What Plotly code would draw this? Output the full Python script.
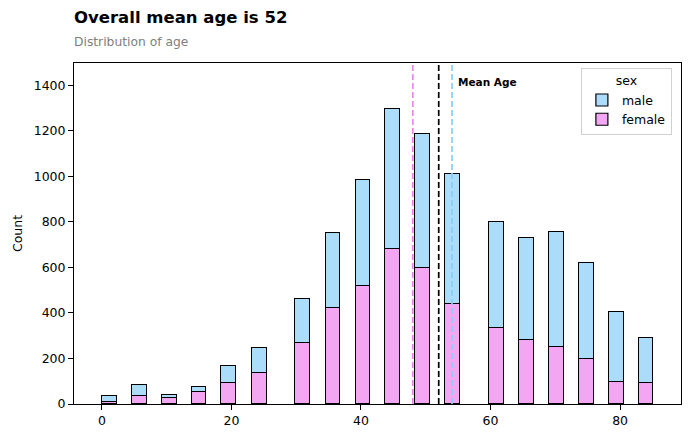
import plotly.graph_objects as go

# --- dados ---
age_bins = [1.2, 5.8, 10.4, 15.0, 19.6, 24.3, 31.0, 35.7, 40.3, 44.9,
            49.5, 54.1, 60.9, 65.5, 70.2, 74.8, 79.4, 84.0]
total = [35, 83, 41, 75, 167, 246, 461, 751, 985, 1296,
         1187, 1012, 800, 729, 756, 621, 404, 291]
female = [11, 33, 26, 51, 91, 136, 268, 422, 518, 680,
          596, 438, 334, 281, 250, 198, 97, 92]
male = [t - f for t, f in zip(total, female)]

mean_female = 48.0
mean_all = 52.0
mean_male = 54.05

FONT = "DejaVu Sans"
MALE_COLOR = "#abddfb"
FEMALE_COLOR = "#f3a7f3"
BAR_W = 2.27

fig = go.Figure()
# female em baixo, male empilhado por cima
fig.add_trace(go.Bar(
    x=age_bins, y=female, name="female", width=BAR_W,
    marker=dict(color=FEMALE_COLOR, line=dict(color="black", width=1.2))
))
fig.add_trace(go.Bar(
    x=age_bins, y=male, name="male", width=BAR_W,
    marker=dict(color=MALE_COLOR, line=dict(color="black", width=1.2))
))

# linhas das médias
for val, col in [(mean_female, "violet"), (mean_all, "black"), (mean_male, "lightskyblue")]:
    fig.add_vline(x=val, line=dict(color=col, dash="6px,3px", width=1.7))

fig.add_annotation(x=mean_male + 0.6, y=1416, text="<b>Mean Age</b>", showarrow=False,
                   xanchor="left", yanchor="middle", font=dict(size=10.5, color="black"))

# a página tem 8px de margem no body, por isso a figura é um pouco menor
fig.update_layout(
    width=682, height=430,
    barmode="stack", bargap=0,
    paper_bgcolor="white", plot_bgcolor="white",
    font=dict(family=FONT, size=12.5, color="black"),
    margin=dict(l=66, r=9, t=55, b=34, autoexpand=False),
    showlegend=True,
    legend=dict(
        title=dict(text="sex", side="top center", font=dict(size=12.5)),
        traceorder="reversed",
        x=0.985, y=0.985, xanchor="right", yanchor="top",
        bordercolor="#d0d0d0", borderwidth=1, bgcolor="rgba(255,255,255,0.8)",
        font=dict(size=12.5)
    ),
    annotations=list(fig.layout.annotations) + [
        dict(text="<b>Overall mean age is 52</b>", xref="paper", yref="paper",
             x=0, y=1, yshift=34, xshift=-2, xanchor="left", yanchor="bottom", showarrow=False,
             font=dict(size=16.5, color="black")),
        dict(text="Distribution of age", xref="paper", yref="paper",
             x=0, y=1, yshift=12, xshift=-2, xanchor="left", yanchor="bottom", showarrow=False,
             font=dict(size=12.3, color="gray")),
    ],
)

fig.update_xaxes(
    range=[-4.3, 89.4], tickvals=[0, 20, 40, 60, 80], automargin=False,
    showline=True, linecolor="black", linewidth=1, mirror=True,
    ticks="outside", ticklen=5, tickcolor="black", showgrid=False, zeroline=False
)
fig.update_yaxes(
    range=[0, 1498], tickvals=[0, 200, 400, 600, 800, 1000, 1200, 1400], automargin=False,
    title=dict(text="Count", standoff=8, font=dict(size=12.5)),
    showline=True, linecolor="black", linewidth=1, mirror=True,
    ticks="outside", ticklen=5, tickcolor="black", showgrid=False, zeroline=False
)

fig.write_html("out.html")
